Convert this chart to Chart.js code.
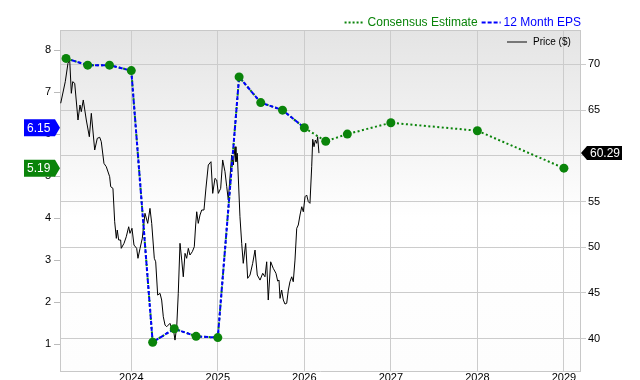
<!DOCTYPE html>
<html lang="en">

<head>
    <meta charset="UTF-8">
    <title>EPS chart</title>
    <style>
        html, body { margin: 0; padding: 0; background: #fff; overflow: hidden; }
        #chart { display: block; }
    </style>
</head>

<body>
    <canvas id="chart" width="640" height="392"></canvas>

    <script src="https://cdn.jsdelivr.net/npm/chart.js@4/dist/chart.umd.min.js"></script>
    <script>
        // 12 month EPS (quarter ends, decimal years)
        const epsDates = [2023.246, 2023.496, 2023.748, 2024.0, 2024.247, 2024.497, 2024.749, 2025.0, 2025.246, 2025.496, 2025.748, 2026.0];
        const epsValues = [7.80, 7.64, 7.64, 7.51, 1.05, 1.37, 1.19, 1.16, 7.36, 6.75, 6.57, 6.15];

        // consensus estimates
        const estDates = [2026.247, 2026.497, 2027.0, 2028.0, 2029.0];
        const estValues = [5.83, 6.00, 6.27, 6.08, 5.19];

        // price ($)
        const priceDates = [2023.184, 2023.237, 2023.268, 2023.288, 2023.307, 2023.323, 2023.346, 2023.384, 2023.407, 2023.422,
            2023.445, 2023.480, 2023.515, 2023.538, 2023.577, 2023.607, 2023.635, 2023.653, 2023.684, 2023.711,
            2023.750, 2023.762, 2023.788, 2023.808, 2023.827, 2023.838, 2023.854, 2023.877, 2023.884, 2023.916,
            2023.942, 2023.970, 2023.985, 2024.008, 2024.031, 2024.062, 2024.077, 2024.101, 2024.127, 2024.158,
            2024.190, 2024.216, 2024.236, 2024.266, 2024.282, 2024.305, 2024.332, 2024.351, 2024.370, 2024.390,
            2024.409, 2024.447, 2024.467, 2024.485, 2024.505, 2024.525, 2024.543, 2024.563, 2024.583, 2024.601,
            2024.621, 2024.640, 2024.659, 2024.678, 2024.705, 2024.728, 2024.744, 2024.756, 2024.774, 2024.794,
            2024.814, 2024.840, 2024.863, 2024.890, 2024.921, 2024.941, 2024.967, 2024.987, 2025.006, 2025.033,
            2025.056, 2025.083, 2025.103, 2025.121, 2025.160, 2025.179, 2025.199, 2025.210, 2025.225, 2025.256,
            2025.276, 2025.294, 2025.322, 2025.345, 2025.372, 2025.403, 2025.430, 2025.456, 2025.488, 2025.519,
            2025.545, 2025.565, 2025.583, 2025.611, 2025.641, 2025.672, 2025.692, 2025.707, 2025.719, 2025.738,
            2025.757, 2025.776, 2025.796, 2025.815, 2025.834, 2025.854, 2025.872, 2025.892, 2025.912, 2025.930,
            2025.950, 2025.970, 2025.988, 2026.008, 2026.027, 2026.046, 2026.065, 2026.085, 2026.097, 2026.112,
            2026.127, 2026.143, 2026.154, 2026.169];
        const priceValues = [65.74, 68.10, 70.11, 70.47, 66.83, 68.10, 67.92, 63.91, 65.55, 64.82,
            66.10, 63.91, 62.08, 64.64, 60.63, 61.91, 62.02, 61.54, 59.17, 58.80,
            57.71, 56.62, 56.44, 52.79, 50.97, 51.88, 50.79, 50.79, 49.88, 50.43,
            51.15, 52.24, 51.52, 52.07, 50.24, 49.88, 48.79, 49.88, 50.97, 53.71,
            52.61, 54.25, 52.61, 48.79, 48.41, 44.77, 44.96, 44.23, 42.40, 41.49,
            41.31, 41.68, 41.13, 41.13, 39.85, 41.31, 44.96, 50.43, 48.60, 46.77,
            49.33, 48.79, 49.88, 49.15, 49.51, 50.05, 52.43, 53.88, 52.61, 53.52,
            54.07, 54.07, 56.47, 58.99, 59.35, 55.89, 57.53, 57.35, 55.89, 56.44,
            59.54, 58.26, 56.62, 55.16, 60.08, 58.99, 60.99, 59.35, 60.27, 53.34,
            50.43, 48.24, 50.43, 46.60, 46.96, 48.24, 49.69, 46.96, 46.41, 47.15,
            46.77, 48.41, 44.23, 48.41, 47.69, 47.15, 46.30, 46.41, 44.41, 45.32,
            44.23, 43.79, 43.87, 45.32, 46.23, 46.77, 46.23, 48.60, 52.07, 52.43,
            53.52, 54.43, 53.88, 55.52, 55.71, 54.98, 54.80, 58.80, 61.80, 60.99,
            61.72, 61.36, 62.08, 60.29];

        const lastEps = 6.15;
        const lastEst = 5.19;
        const lastPrice = 60.29;

        const GREEN = '#0a840a';
        const BLUE = '#0000ff';
        const FONT = '"Liberation Sans", Arial, sans-serif';

        function pts(xs, ys) {
            return xs.map((x, i) => ({ x: x, y: ys[i] }));
        }

        function flag(ctx, x, y, w, h, tip, color, text, pointLeft) {
            ctx.save();
            ctx.fillStyle = color;
            ctx.beginPath();
            if (pointLeft) {
                ctx.moveTo(x, y);
                ctx.lineTo(x + tip, y - h / 2);
                ctx.lineTo(x + w, y - h / 2);
                ctx.lineTo(x + w, y + h / 2);
                ctx.lineTo(x + tip, y + h / 2);
            } else {
                ctx.moveTo(x, y);
                ctx.lineTo(x - tip, y - h / 2);
                ctx.lineTo(x - w, y - h / 2);
                ctx.lineTo(x - w, y + h / 2);
                ctx.lineTo(x - tip, y + h / 2);
            }
            ctx.closePath();
            ctx.fill();
            ctx.fillStyle = '#fff';
            ctx.font = '12px ' + FONT;
            ctx.textBaseline = 'middle';
            ctx.textAlign = 'left';
            ctx.fillText(text, pointLeft ? x + 9 : x - w + 3, y + 1);
            ctx.restore();
        }

        const decor = {
            id: 'decor',
            beforeDraw(chart) {
                const ctx = chart.ctx, a = chart.chartArea;
                ctx.save();
                ctx.fillStyle = '#fff';
                ctx.fillRect(0, 0, chart.width, chart.height);
                const g = ctx.createLinearGradient(0, a.top, 0, a.bottom);
                g.addColorStop(0, '#e4e4e4');
                g.addColorStop(0.55, '#ffffff');
                g.addColorStop(1, '#fdfdfd');
                ctx.fillStyle = g;
                ctx.fillRect(a.left, a.top, a.right - a.left, a.bottom - a.top);
                ctx.restore();
            },
            afterDraw(chart) {
                const ctx = chart.ctx, a = chart.chartArea;
                ctx.save();
                // frame top
                ctx.strokeStyle = '#c8c8c8';
                ctx.lineWidth = 1;
                ctx.beginPath();
                ctx.moveTo(a.left, a.top + 0.5);
                ctx.lineTo(a.right, a.top + 0.5);
                ctx.stroke();

                // top legend, right aligned
                ctx.font = '12px ' + FONT;
                ctx.textBaseline = 'middle';
                ctx.textAlign = 'left';
                const ly = 22.5;
                const t2 = '12 Month EPS', t1 = 'Consensus Estimate';
                const x2 = 581 - ctx.measureText(t2).width;
                ctx.fillStyle = BLUE;
                ctx.fillText(t2, x2, ly + 0.5);
                ctx.strokeStyle = BLUE;
                ctx.lineWidth = 2;
                ctx.setLineDash([4, 2]);
                ctx.beginPath();
                ctx.moveTo(x2 - 22, ly);
                ctx.lineTo(x2 - 3, ly);
                ctx.stroke();
                const x1 = x2 - 26 - ctx.measureText(t1).width;
                ctx.fillStyle = GREEN;
                ctx.fillText(t1, x1, ly + 0.5);
                ctx.strokeStyle = GREEN;
                ctx.setLineDash([2, 2]);
                ctx.beginPath();
                ctx.moveTo(x1 - 23, ly);
                ctx.lineTo(x1 - 5, ly);
                ctx.stroke();
                ctx.setLineDash([]);

                // price legend inside the plot
                ctx.strokeStyle = '#777';
                ctx.lineWidth = 2;
                ctx.beginPath();
                ctx.moveTo(507, 42);
                ctx.lineTo(527, 42);
                ctx.stroke();
                ctx.fillStyle = '#000';
                ctx.font = '10px ' + FONT;
                ctx.fillText('Price ($)', 533, 42.5);
                ctx.restore();

                // value flags
                const y = chart.scales.y, y2 = chart.scales.y2;
                flag(ctx, 60, y.getPixelForValue(lastEps), 36, 17, 5, BLUE, lastEps.toFixed(2), false);
                flag(ctx, 60, y.getPixelForValue(lastEst), 36, 17, 5, GREEN, lastEst.toFixed(2), false);
                flag(ctx, 581, y2.getPixelForValue(lastPrice), 41, 14, 6, '#000', lastPrice.toFixed(2), true);
            }
        };

        const ctx = document.getElementById('chart').getContext('2d');
        const chart = new Chart(ctx, {
            type: 'line',
            data: {
                datasets: [{
                    label: 'Price ($)',
                    data: pts(priceDates, priceValues),
                    yAxisID: 'y2',
                    borderColor: '#000',
                    borderWidth: 1,
                    pointRadius: 0,
                    order: 4
                }, {
                    label: 'Consensus Estimate',
                    data: pts(epsDates.concat(estDates), epsValues.concat(estValues)),
                    yAxisID: 'y',
                    borderColor: GREEN,
                    borderWidth: 2,
                    borderDash: [2, 2.5],
                    pointRadius: 0,
                    order: 3
                }, {
                    label: '12 Month EPS',
                    data: pts(epsDates, epsValues),
                    yAxisID: 'y',
                    borderColor: BLUE,
                    borderWidth: 2,
                    borderDash: [4, 2],
                    pointRadius: 0,
                    order: 2
                }, {
                    label: 'points',
                    data: pts(epsDates.concat(estDates), epsValues.concat(estValues)),
                    yAxisID: 'y',
                    showLine: false,
                    pointRadius: 4.5,
                    pointBackgroundColor: GREEN,
                    pointBorderColor: GREEN,
                    pointBorderWidth: 0,
                    order: 1
                }]
            },
            options: {
                responsive: false,
                animation: false,
                devicePixelRatio: 1,
                layout: { padding: { top: 30, left: 0, right: 0, bottom: 0 } },
                plugins: { legend: { display: false }, tooltip: { enabled: false } },
                scales: {
                    x: {
                        type: 'linear',
                        min: 2023.176,
                        max: 2029.186,
                        afterFit(s) { s.height = 21; },
                        border: { display: true, color: '#c8c8c8' },
                        grid: { color: '#cccccc', drawTicks: false },
                        ticks: {
                            stepSize: 1,
                            includeBounds: false,
                            maxRotation: 0,
                            padding: 0,
                            color: '#000',
                            font: { family: FONT, size: 11 },
                            callback: v => String(v)
                        }
                    },
                    y: {
                        position: 'left',
                        min: 0.365,
                        max: 8.476,
                        afterFit(s) { s.width = 60; },
                        border: { display: true, color: '#c8c8c8' },
                        grid: { drawOnChartArea: false, tickLength: 6, color: '#bbbbbb' },
                        ticks: {
                            stepSize: 1,
                            includeBounds: false,
                            padding: 3,
                            color: '#000',
                            font: { family: FONT, size: 11 }
                        }
                    },
                    y2: {
                        position: 'right',
                        min: 36.47,
                        max: 73.75,
                        afterFit(s) { s.width = 60; },
                        border: { display: true, color: '#c8c8c8' },
                        grid: { color: '#cccccc', tickLength: 6 },
                        ticks: {
                            stepSize: 5,
                            includeBounds: false,
                            padding: 2,
                            color: '#000',
                            font: { family: FONT, size: 11 }
                        }
                    }
                }
            },
            plugins: [decor]
        });
    </script>
</body>

</html>
